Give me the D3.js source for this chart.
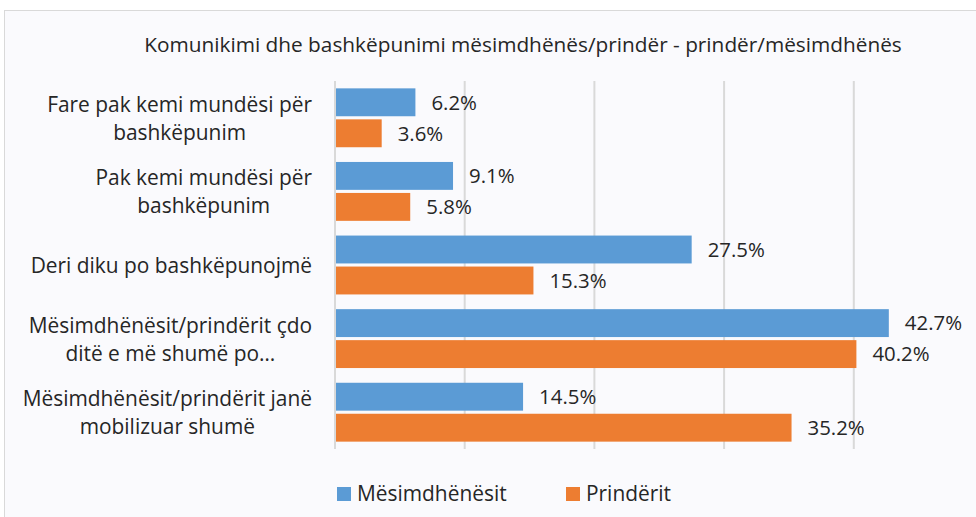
<!DOCTYPE html>
<html>
<head>
<meta charset="utf-8">
<script src="https://cdn.jsdelivr.net/npm/d3@7"></script>
<style>
  body { margin: 0; background: #ffffff; }
  text { font-family: "Open Sans", Lato, sans-serif; fill: #262626; }
</style>
</head>
<body>
<script>
//Chart values
var categories = ["Fare pak", "Pak", "Deri diku", "Cdo dite", "Mobilizuar"];
var categoryLines = [
  ["Fare pak kemi mundësi për", "bashkëpunim"],
  ["Pak kemi mundësi për", "bashkëpunim"],
  ["Deri diku po bashkëpunojmë"],
  ["Mësimdhënësit/prindërit çdo", "ditë e më shumë po…"],
  ["Mësimdhënësit/prindërit janë", "mobilizuar shumë"]
];
var seriesNames = ["Mësimdhënësit", "Prindërit"];
var mesimdhenesit = [6.2, 9.1, 27.5, 42.7, 14.5];
var prinderit = [3.6, 5.8, 15.3, 40.2, 35.2];
var gridTicks = [0, 10, 20, 30, 40, 50];
var colors = ["#5b9bd5", "#ed7d31"];
var title = "Komunikimi dhe bashkëpunimi mësimdhënës/prindër - prindër/mësimdhënës";

var width = 976, height = 517;
var values = [mesimdhenesit, prinderit];

var svg = d3.select('body')
    .append('svg')
    .attr('width', width)
    .attr('height', height);

//Chart area frame
svg.append('rect')
  .attr('x', 4.5).attr('y', 10.5)
  .attr('width', width + 10).attr('height', height + 10)
  .attr('fill', '#fafafd')
  .attr('stroke', '#d9d9d9')
  .attr('stroke-width', 1);

//Scales
var xscale = d3.scaleLinear()
    .domain([0, 50])
    .range([335, 335 + 648.5]);

var yscale = d3.scaleBand()
    .domain(categories)
    .range([81, 449])
    .paddingInner(0.2)
    .paddingOuter(0.1);

var inner = d3.scaleBand()
    .domain([0, 1])
    .range([0, yscale.bandwidth()])
    .paddingInner(0.1);

//Gridlines
svg.append('g')
  .selectAll('line')
  .data(gridTicks).enter()
  .append('line')
  .attr('x1', function(d){ return xscale(d); })
  .attr('x2', function(d){ return xscale(d); })
  .attr('y1', 81)
  .attr('y2', 449)
  .attr('stroke', '#d9d9d9')
  .attr('stroke-width', 2);

//Bars
values.forEach(function(series, s) {
  svg.append('g')
    .selectAll('rect')
    .data(series).enter()
    .append('rect')
    .attr('x', xscale(0) + 1)
    .attr('y', function(d, i){ return yscale(categories[i]) + inner(s); })
    .attr('width', function(d){ return xscale(d) - xscale(0) - 1; })
    .attr('height', inner.bandwidth())
    .attr('fill', colors[s]);

  svg.append('g')
    .selectAll('text')
    .data(series).enter()
    .append('text')
    .attr('x', function(d){ return xscale(d) + 16; })
    .attr('y', function(d, i){ return yscale(categories[i]) + inner(s) + inner.bandwidth() / 2; })
    .attr('dy', '0.36em')
    .style('font-size', '20.4px')
    .text(function(d){ return d.toFixed(1) + '%'; });
});

//Category labels (right aligned block, centered lines)
var labelRight = 312;
categories.forEach(function(c, i) {
  var lines = categoryLines[i];
  var cy = yscale(c) + yscale.bandwidth() / 2;
  var g = svg.append('g');
  var texts = g.selectAll('text')
    .data(lines).enter()
    .append('text')
    .attr('y', function(d, j){ return cy + (j - (lines.length - 1) / 2) * 28; })
    .attr('dy', '0.38em')
    .style('font-size', '20.9px')
    .attr('text-anchor', 'middle')
    .text(function(d){ return d; });
  var maxW = d3.max(texts.nodes(), function(n){ return n.getComputedTextLength(); });
  texts.attr('x', labelRight - maxW / 2);
});

//Title
svg.append('text')
  .attr('x', 523)
  .attr('y', 52)
  .attr('text-anchor', 'middle')
  .style('font-size', '20.8px')
  .text(title);

//Legend
var legendX = [337, 566];
var legend = svg.append('g')
  .selectAll('g')
  .data(seriesNames).enter()
  .append('g')
  .attr('transform', function(d, i){ return 'translate(' + legendX[i] + ',487)'; });

legend.append('rect')
  .attr('width', 14).attr('height', 14)
  .attr('fill', function(d, i){ return colors[i]; });

legend.append('text')
  .attr('x', 20)
  .attr('y', 14)
  .style('font-size', '20.9px')
  .text(function(d){ return d; });
</script>
</body>
</html>
